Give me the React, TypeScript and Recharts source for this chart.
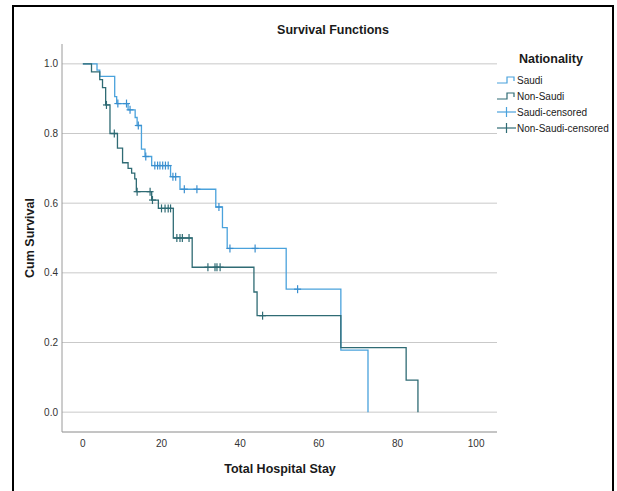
import { CartesianGrid, ComposedChart, Legend, Line, Scatter, XAxis, YAxis } from "recharts";

const FONT = "'Liberation Sans', Arial, sans-serif";
const BLUE = "#4aa2dc";
const TEAL = "#2f6b74";

// Kaplan-Meier steps (time, cum survival)
const saudiTimes = [0, 3.6, 4.3, 8.1, 8.6, 11.5, 13.3, 13.8, 14.9, 15.8, 17.5, 22.3, 24.7, 33.8, 35.5, 36.7, 51.7, 65.6, 72.5];
const saudiSurv = [1.0, 0.982, 0.964, 0.906, 0.886, 0.868, 0.846, 0.823, 0.755, 0.734, 0.708, 0.676, 0.64, 0.589, 0.53, 0.47, 0.353, 0.178, 0];

const nonSaudiTimes = [0, 2.2, 4.3, 5.0, 5.8, 6.9, 8.8, 10.1, 11.5, 12.4, 13.2, 13.6, 17.5, 19.2, 23.0, 27.8, 43.5, 44.3, 65.6, 82.2, 85.2];
const nonSaudiSurv = [1.0, 0.977, 0.955, 0.932, 0.882, 0.8, 0.758, 0.716, 0.7, 0.686, 0.67, 0.633, 0.609, 0.585, 0.5, 0.416, 0.345, 0.277, 0.185, 0.092, 0];

// censored observations
const saudiCensorTimes = [8.9, 11.1, 12.0, 14.1, 16.0, 18.3, 19.0, 19.6, 20.3, 21.0, 21.7, 22.9, 23.6, 25.8, 29.0, 34.6, 37.4, 43.8, 54.6];
const saudiCensorSurv = [0.886, 0.886, 0.868, 0.823, 0.734, 0.708, 0.708, 0.708, 0.708, 0.708, 0.708, 0.676, 0.676, 0.64, 0.64, 0.589, 0.47, 0.47, 0.353];

const nonSaudiCensorTimes = [6.0, 8.0, 13.8, 17.1, 17.7, 20.0, 20.9, 21.7, 22.3, 23.9, 24.7, 25.3, 27.0, 31.8, 33.6, 34.1, 34.9, 45.7];
const nonSaudiCensorSurv = [0.882, 0.8, 0.633, 0.633, 0.609, 0.585, 0.585, 0.585, 0.585, 0.5, 0.5, 0.5, 0.5, 0.416, 0.416, 0.416, 0.416, 0.277];

const xTicks = [0, 20, 40, 60, 80, 100];
const yTicks = [0, 0.2, 0.4, 0.6, 0.8, 1.0];

const toPoints = (ts: number[], ss: number[]) => ts.map((t, i) => ({ t, s: ss[i] }));

const saudiData = toPoints(saudiTimes, saudiSurv);
const nonSaudiData = toPoints(nonSaudiTimes, nonSaudiSurv);
const saudiCensored = toPoints(saudiCensorTimes, saudiCensorSurv);
const nonSaudiCensored = toPoints(nonSaudiCensorTimes, nonSaudiCensorSurv);

const CensorMark = (color: string) => (props: any) => {
  const { cx, cy } = props;
  return (
    <g stroke={color} strokeWidth={1.2}>
      <line x1={cx - 3.5} x2={cx + 3.5} y1={cy} y2={cy} />
      <line x1={cx} x2={cx} y1={cy - 4} y2={cy + 4} />
    </g>
  );
};

const legendItems = [
  { label: "Saudi", color: BLUE, kind: "step" },
  { label: "Non-Saudi", color: TEAL, kind: "step" },
  { label: "Saudi-censored", color: BLUE, kind: "cross" },
  { label: "Non-Saudi-censored", color: TEAL, kind: "cross" },
];

const NationalityLegend = () => (
  <div style={{ fontFamily: FONT, color: "#1a1a1a" }}>
    <div style={{ fontSize: 12.5, fontWeight: 700, height: 18, lineHeight: "18px", marginLeft: 22, marginBottom: 4 }}>
      Nationality
    </div>
    {legendItems.map((item) => (
      <div key={item.label} style={{ display: "flex", alignItems: "center", height: 16, fontSize: 10 }}>
        <svg width={20} height={12} style={{ marginRight: 0 }}>
          {item.kind === "step" ? (
            <path d="M0 9 H10 V3 H17 V7" fill="none" stroke={item.color} strokeWidth={1.2} />
          ) : (
            <g stroke={item.color} strokeWidth={1.2}>
              <line x1={0} x2={19} y1={6} y2={6} />
              <line x1={9.5} x2={9.5} y1={1} y2={11} />
            </g>
          )}
        </svg>
        <span>{item.label}</span>
      </div>
    ))}
  </div>
);

export default function App() {
  return (
    <div style={{ position: "absolute", left: 0, top: 0, width: 617, height: 491, background: "#fff", overflow: "hidden" }}>
      <div
        style={{
          position: "absolute",
          left: 12,
          top: 5,
          width: 598,
          height: 520,
          border: "2px solid #000",
        }}
      />
      <div
        style={{
          position: "absolute",
          left: 233,
          width: 200,
          top: 23,
          textAlign: "center",
          fontFamily: FONT,
          fontSize: 12.5,
          fontWeight: 700,
          color: "#1a1a1a",
        }}
      >
        Survival Functions
      </div>
      <div style={{ position: "absolute", left: 0, top: 0 }}>
        <ComposedChart width={617} height={491} margin={{ top: 44, right: 0, bottom: 19, left: 12 }}>
          <CartesianGrid vertical={false} stroke="#c9c9c9" horizontalValues={yTicks} />
          <XAxis
            dataKey="t"
            type="number"
            domain={[-5.3, 105.3]}
            ticks={xTicks}
            allowDataOverflow
            height={40}
            tickLine={false}
            tickSize={6}
            tickMargin={2}
            axisLine={{ stroke: "#8a8a8a" }}
            tick={{ fontSize: 10, fill: "#333", fontFamily: FONT }}
            label={(p: any) => (
              <text x={280} y={473} textAnchor="middle" fontFamily={FONT} fontSize={12.5} fontWeight={700} fill="#1a1a1a">
                Total Hospital Stay
              </text>
            )}
          />
          <YAxis
            dataKey="s"
            type="number"
            domain={[-0.057, 1.057]}
            ticks={yTicks}
            allowDataOverflow
            width={50}
            tickLine={false}
            tickSize={2}
            tickMargin={2}
            axisLine={{ stroke: "#9a9a9a" }}
            tickFormatter={(v: number) => v.toFixed(1)}
            tick={{ fontSize: 10, fill: "#333", fontFamily: FONT }}
            label={(p: any) => (
              <text
                x={34}
                y={238}
                transform="rotate(-90 34 238)"
                textAnchor="middle"
                fontFamily={FONT}
                fontSize={12.5}
                fontWeight={700}
                fill="#1a1a1a"
              >
                Cum Survival
              </text>
            )}
          />
          <Legend
            layout="vertical"
            align="right"
            verticalAlign="top"
            content={<NationalityLegend />}
            wrapperStyle={{ left: 497, top: 50, width: 120 }}
          />
          <Line
            data={saudiData}
            dataKey="s"
            type="stepAfter"
            stroke={BLUE}
            strokeWidth={1.3}
            dot={false}
            activeDot={false}
            isAnimationActive={false}
            name="Saudi"
          />
          <Line
            data={nonSaudiData}
            dataKey="s"
            type="stepAfter"
            stroke={TEAL}
            strokeWidth={1.3}
            dot={false}
            activeDot={false}
            isAnimationActive={false}
            name="Non-Saudi"
          />
          <Scatter data={saudiCensored} dataKey="s" shape={CensorMark("#3a8fcf")} isAnimationActive={false} name="Saudi-censored" />
          <Scatter data={nonSaudiCensored} dataKey="s" shape={CensorMark(TEAL)} isAnimationActive={false} name="Non-Saudi-censored" />
        </ComposedChart>
      </div>
    </div>
  );
}
